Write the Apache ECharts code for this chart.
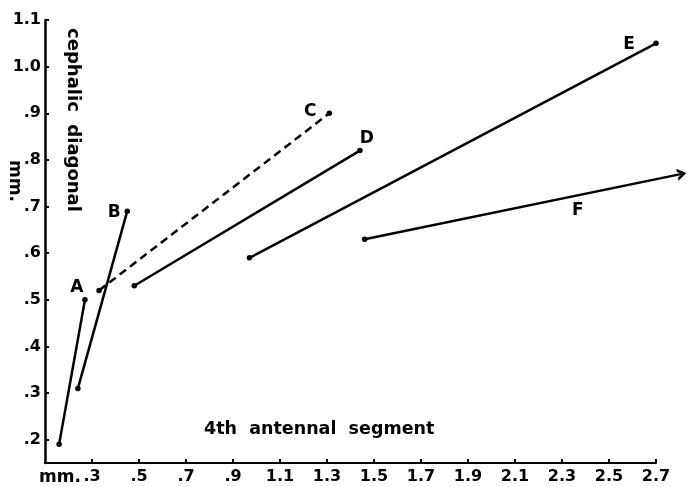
<!DOCTYPE html>
<html>
<head>
<meta charset="utf-8">
<script src="https://cdn.jsdelivr.net/npm/echarts@6/dist/echarts.min.js"></script>
<style>html,body{margin:0;padding:0;background:#fff;}#c{width:687px;height:487px;}</style>
</head>
<body>
<div id="c"></div>
<script>
const segNames = ['A', 'B', 'C', 'D', 'E', 'F'];
const xStart = [0.16, 0.24, 0.33, 0.48, 0.97, 1.46];
const yStart = [0.19, 0.31, 0.52, 0.53, 0.59, 0.63];
const xEnd = [0.27, 0.45, 1.31, 1.44, 2.70, 2.81];
const yEnd = [0.50, 0.69, 0.90, 0.82, 1.05, 0.77];
const xTicks = [0.3, 0.5, 0.7, 0.9, 1.1, 1.3, 1.5, 1.7, 1.9, 2.1, 2.3, 2.5, 2.7];
const xTickLabels = ['.3', '.5', '.7', '.9', '1.1', '1.3', '1.5', '1.7', '1.9', '2.1', '2.3', '2.5', '2.7'];
const yTicks = [0.2, 0.3, 0.4, 0.5, 0.6, 0.7, 0.8, 0.9, 1.0, 1.1];
const yTickLabels = ['.2', '.3', '.4', '.5', '.6', '.7', '.8', '.9', '1.0', '1.1'];
const xTitle = '4th  antennal  segment';
const yTitle = 'cephalic  diagonal';
const unit = 'mm.';

const FONT = 'DejaVu Sans';
const W = 687, LEFT = 45, RIGHT_AXIS = 31;
const X_MIN = 0.1, X_AXIS_MAX = 2.7, Y_MIN = 0.15, Y_MAX = 1.1;
// data grid spans full width so that the F arrow can run past the drawn axis end
const X_DATA_MAX = X_MIN + (X_AXIS_MAX - X_MIN) * (W - LEFT) / (W - LEFT - RIGHT_AXIS);
const labelOffsets = {A: [-8, -12], B: [-13, 1], C: [-19, -2], D: [7, -12], E: [-27, 1], F: [-104, 37]};

function labelFor(ticks, labels) {
  return v => {
    const i = ticks.findIndex(t => Math.abs(t - v) < 1e-6);
    return i >= 0 ? labels[i] : '';
  };
}

const series = segNames.map((n, i) => {
  const endItem = {
    value: [xEnd[i], yEnd[i]],
    label: {
      show: true, formatter: n, position: 'inside', offset: labelOffsets[n],
      color: '#000', fontFamily: FONT, fontWeight: 'bold', fontSize: 17
    }
  };
  if (n === 'F') {
    endItem.symbol = 'path://M0,0 L10,5 L0,10 L0,7.4 L6,5 L0,2.6 Z';
    endItem.symbolSize = [9, 12];
    endItem.symbolRotate = 11;
  }
  return {
    type: 'line',
    name: n,
    xAxisIndex: 0, yAxisIndex: 0,
    clip: false,
    symbol: 'circle',
    symbolSize: 5.5,
    showAllSymbol: true,
    itemStyle: {color: '#000'},
    lineStyle: {color: '#000', width: 2.5, type: n === 'C' ? [8, 5] : 'solid'},
    data: [{value: [xStart[i], yStart[i]]}, endItem],
    z: 3
  };
});

const tickFont = {color: '#000', fontFamily: FONT, fontWeight: 'bold', fontSize: 16};

const chart = echarts.init(document.getElementById('c'), null, {renderer: 'canvas'});
chart.setOption({
  animation: false,
  backgroundColor: '#fff',
  grid: [
    {left: LEFT, right: 0, top: 20, bottom: 24},
    {left: LEFT, right: RIGHT_AXIS, top: 20, bottom: 24}
  ],
  xAxis: [
    {gridIndex: 0, type: 'value', min: X_MIN, max: X_DATA_MAX, show: false},
    {
      gridIndex: 1, type: 'value', min: X_MIN, max: X_AXIS_MAX,
      splitLine: {show: false},
      axisLine: {show: true, lineStyle: {color: '#000', width: 2}},
      axisTick: {show: true, inside: true, length: 4, lineStyle: {color: '#000', width: 2}, customValues: xTicks},
      axisLabel: Object.assign({customValues: xTicks, formatter: labelFor(xTicks, xTickLabels), margin: 6}, tickFont)
    }
  ],
  yAxis: [
    {
      gridIndex: 0, type: 'value', min: Y_MIN, max: Y_MAX,
      splitLine: {show: false},
      axisLine: {show: true, lineStyle: {color: '#000', width: 2.5}},
      axisTick: {show: true, inside: true, length: 4, lineStyle: {color: '#000', width: 2}, customValues: yTicks},
      axisLabel: Object.assign({customValues: yTicks, formatter: labelFor(yTicks, yTickLabels), margin: 4}, tickFont)
    },
    {gridIndex: 1, type: 'value', min: Y_MIN, max: Y_MAX, show: false}
  ],
  graphic: [
    {type: 'text', left: 204, top: 420, style: {text: xTitle, fill: '#000', font: 'bold 17.5px "' + FONT + '"'}},
    {type: 'text', x: 73, y: 120, rotation: -Math.PI / 2,
      style: {text: yTitle, fill: '#000', font: 'bold 18px "' + FONT + '"', align: 'center', verticalAlign: 'middle'}},
    {type: 'text', x: 14, y: 181, rotation: -Math.PI / 2,
      style: {text: unit, fill: '#000', font: 'bold 17px "' + FONT + '"', align: 'center', verticalAlign: 'middle'}},
    {type: 'text', x: 60, y: 478,
      style: {text: unit, fill: '#000', font: 'bold 17px "' + FONT + '"', align: 'center', verticalAlign: 'middle'}}
  ],
  series: series
});
</script>
</body>
</html>
